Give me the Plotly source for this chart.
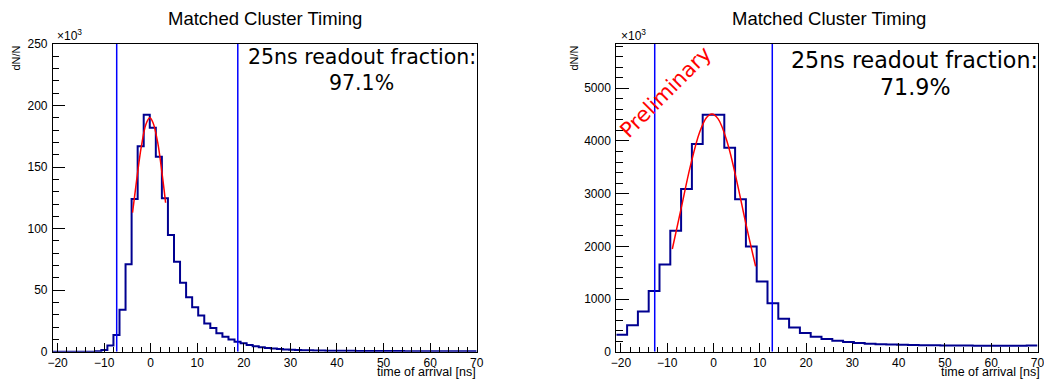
import numpy as np
import plotly.graph_objects as go

# ---------------- data ----------------
x_range = [-21, 70]

# left panel: counts per bin (x10^3), 70 bins from -21 to 70 ns
left_counts = [0, 0, 0, 0, 0, 0, 0, 0.3, 1.3, 5.0,
               13.6, 34, 71, 124, 167, 192.5, 182, 158.4, 124.6, 94.8,
               73, 56, 44.2, 36.2, 29.5, 23, 19.3, 15, 12.2, 10,
               8.1, 6.8, 5.4, 4.4, 3.6, 3.0, 2.5, 2.1, 1.8, 1.6,
               1.4, 1.25, 1.1, 1.0, 0.9, 0.85, 0.8, 0.75, 0.7, 0.68,
               0.65, 0.62, 0.6, 0.58, 0.55, 0.53, 0.5, 0.48, 0.46, 0.45,
               0.43, 0.42, 0.4, 0.39, 0.38, 0.37, 0.36, 0.35, 0.34, 0.33]

# right panel: counts per bin (x10^3), 39 bins from -21 to 70 ns
right_counts = [320, 500, 765, 1152, 1655, 2295, 3088, 3940, 4495, 4495,
                3873, 2895, 1995, 1333, 918, 625, 458, 353, 284, 240,
                208, 183, 165, 152, 143, 136, 130, 126, 123, 121,
                119, 117, 116, 115, 114, 113, 113, 112, 118]

left_window = [-7.3, 18.7]
right_window = [-12.7, 12.7]

left_fit_x = [-3.9, -3.0, -2.0, -1.0, -0.2, 0.5, 1.5, 2.5, 3.2]
left_fit_y = [113, 140, 167, 185, 190, 186, 170, 143, 121]

right_fit_x = [-8.9, -7.0, -5.0, -3.0, -1.5, -0.35, 1.0, 3.0, 5.0, 7.0, 9.1]
right_fit_y = [1949, 2715, 3521, 4163, 4444, 4512, 4419, 3967, 3248, 2427, 1619]

title_text = "Matched Cluster Timing"
left_fraction = "97.1%"
right_fraction = "71.9%"

# ---------------- figure ----------------
HIST_COLOR = "#000090"
LINE_COLOR = "#0000ff"
FIT_COLOR = "#ff0000"
SANS = "Liberation Sans, Arial, sans-serif"
TICK_FONT = dict(family=SANS, size=12, color="black")
ANN_FONT = "DejaVu Sans, sans-serif"


def step_xy(counts):
    edges = np.linspace(x_range[0], x_range[1], len(counts) + 1)
    return list(edges), list(counts) + [counts[-1]]


fig = go.Figure()

for counts, fx, fy, win, xa, ya, ymax in [
    (left_counts, left_fit_x, left_fit_y, left_window, "x", "y", 250),
    (right_counts, right_fit_x, right_fit_y, right_window, "x2", "y2", 5840),
]:
    sx, sy = step_xy(counts)
    fig.add_trace(go.Scatter(x=sx, y=sy, mode="lines", line=dict(color=HIST_COLOR, width=2, shape="hv"),
                             xaxis=xa, yaxis=ya, showlegend=False, hoverinfo="skip"))
    for w in win:
        fig.add_trace(go.Scatter(x=[w, w], y=[0, ymax], mode="lines", line=dict(color=LINE_COLOR, width=1.5),
                                 xaxis=xa, yaxis=ya, showlegend=False, hoverinfo="skip"))
    fig.add_trace(go.Scatter(x=fx, y=fy, mode="lines", line=dict(color=FIT_COLOR, width=1.5, shape="spline"),
                             xaxis=xa, yaxis=ya, showlegend=False, hoverinfo="skip"))


def xaxis_cfg(domain, anchor):
    return dict(domain=domain, range=x_range, anchor=anchor, tick0=0, dtick=10,
                ticks="inside", ticklen=9, tickwidth=1, tickcolor="black",
                minor=dict(dtick=2, ticks="inside", ticklen=5, tickcolor="black", tickwidth=1),
                showline=True, mirror=True, linecolor="black", linewidth=1, automargin=False,
                showgrid=False, zeroline=False, tickfont=TICK_FONT, ticklabeloverflow="allow",
                ticklabelstandoff=0)


def yaxis_cfg(domain, anchor, rng, dtick, mdtick, tl, mtl):
    return dict(domain=domain, range=rng, anchor=anchor, tick0=0, dtick=dtick,
                ticks="inside", ticklen=tl, tickwidth=1, tickcolor="black",
                minor=dict(dtick=mdtick, ticks="inside", ticklen=mtl, tickcolor="black", tickwidth=1),
                showline=True, mirror=True, linecolor="black", linewidth=1, automargin=False,
                showgrid=False, zeroline=False, tickfont=TICK_FONT, ticklabelstandoff=2)


W, H = 1044, 381
ydom = [(H - 351.7) / H, (H - 44) / H]

fig.update_layout(
    template="none",
    width=W, height=H,
    margin=dict(l=0, r=0, t=0, b=0, pad=0),
    paper_bgcolor="white", plot_bgcolor="white",
    xaxis=xaxis_cfg([52.9 / W, 476.7 / W], "y"),
    yaxis=yaxis_cfg(ydom, "x", [0, 250], 50, 10, 12, 6),
    xaxis2=xaxis_cfg([616.3 / W, 1037.5 / W], "y2"),
    yaxis2=yaxis_cfg(ydom, "x2", [0, 5840], 1000, 200, 13, 7),
)

ann = []


def paper(xpx, ypx):
    return xpx / W, (H - ypx) / H


def add_ann(xpx, ypx, text, **kw):
    px, py = paper(xpx, ypx)
    d = dict(x=px, y=py, xref="paper", yref="paper", text=text, showarrow=False)
    d.update(kw)
    ann.append(d)


for cx, frac, fsize, y1, y2, xl, xt, xd, xr in [
    (361.5, left_fraction, 20.5, 57, 83, 265, 55, 15, 478),
    (914.5, right_fraction, 22.2, 60, 87, 829, 619, 573, 1042),
]:
    add_ann(xl, 18, title_text, xanchor="center", yanchor="middle",
            font=dict(family=SANS, size=18.5, color="black"))
    add_ann(cx, y1, "25ns readout fraction:", xanchor="center", yanchor="middle",
            font=dict(family=ANN_FONT, size=fsize, color="black"))
    add_ann(cx, y2, frac, xanchor="center", yanchor="middle",
            font=dict(family=ANN_FONT, size=fsize, color="black"))
    add_ann(xt, 45, "×10<sup>3</sup>", xanchor="left", yanchor="bottom",
            font=dict(family=SANS, size=12, color="black"))
    add_ann(xd, 44, "dN/N", xanchor="center", yanchor="top", textangle=-90,
            font=dict(family=SANS, size=11, color="black"))
    add_ann(xr, 381, "time of arrival [ns]", xanchor="right", yanchor="bottom",
            font=dict(family=SANS, size=12.5, color="black"))

add_ann(665.7, 91.7, "Preliminary", xanchor="center", yanchor="middle", textangle=-45,
        font=dict(family=ANN_FONT, size=21, color="#ff0000"))

fig.update_layout(annotations=ann)
fig.write_html("out.html", config={"displayModeBar": False},
               post_script="document.body.style.margin='0';document.body.style.overflow='hidden';")
